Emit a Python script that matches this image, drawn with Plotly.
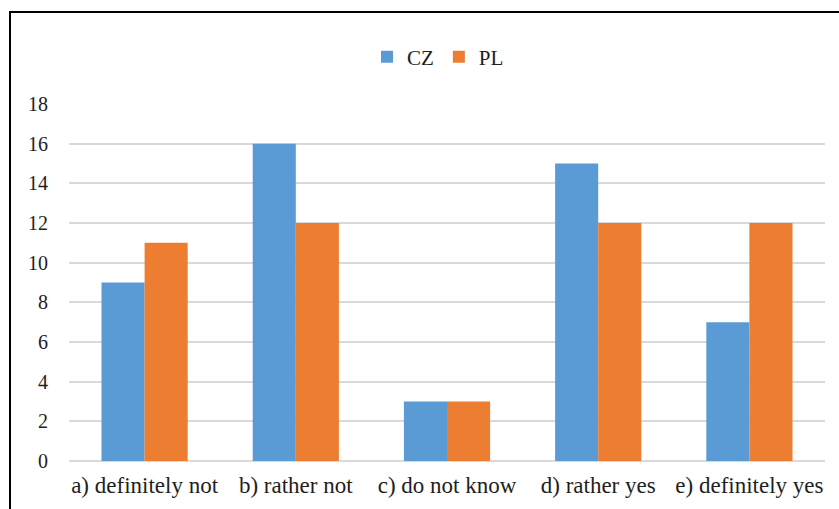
import plotly.graph_objects as go

categories = ["a) definitely not", "b) rather not", "c) do not know", "d) rather yes", "e) definitely yes"]
cz_values = [9, 16, 3, 15, 7]
pl_values = [11, 12, 3, 12, 12]
y_ticks = [0, 2, 4, 6, 8, 10, 12, 14, 16, 18]

W, H = 839, 509
L, R, T, B = 69, 14, 104, 48
pw, ph = W - L - R, H - T - B

fam = "Liberation Serif, Times New Roman, serif"
col = "#1e1e1e"

fig = go.Figure()
fig.add_trace(go.Bar(name="CZ", x=categories, y=cz_values, marker=dict(color="#5B9BD5", line=dict(width=0))))
fig.add_trace(go.Bar(name="PL", x=categories, y=pl_values, marker=dict(color="#ED7D31", line=dict(width=0))))

fig.update_layout(
    width=W, height=H,
    margin=dict(l=L, r=R, t=T, b=B),
    paper_bgcolor="white", plot_bgcolor="white",
    barmode="group", bargap=0.43, bargroupgap=0,
    font=dict(family=fam, size=20, color=col),
    showlegend=True,
    legend=dict(orientation="h", x=(438 - L) / pw, xanchor="center", y=1 + (104 - 57) / ph, yanchor="middle",
                font=dict(family=fam, size=21, color=col),
                itemwidth=30, traceorder="normal", tracegroupgap=0),
    xaxis=dict(showgrid=False, showline=False, ticks="", tickangle=0, ticklabelstandoff=8,
               tickfont=dict(family=fam, size=23, color=col)),
    yaxis=dict(range=[0, 18], tickvals=y_ticks, showgrid=True, gridcolor="#D9D9D9", gridwidth=1.5,
               zeroline=True, zerolinecolor="#D9D9D9", zerolinewidth=1.5, showline=False, ticks="",
               ticklen=0, tickfont=dict(family=fam, size=20, color=col), ticklabelstandoff=20),
    shapes=[dict(type="rect", xref="paper", yref="paper",
                 x0=(10 - L) / pw, x1=(W + 5 - L) / pw,
                 y0=(H - B - (H + 5)) / ph, y1=(H - B - 12) / ph,
                 line=dict(color="black", width=2), fillcolor="rgba(0,0,0,0)", layer="above")],
)

fig.write_html("out.html", config={"displayModeBar": False},
               post_script="document.body.style.margin='0';document.body.style.padding='0';")
